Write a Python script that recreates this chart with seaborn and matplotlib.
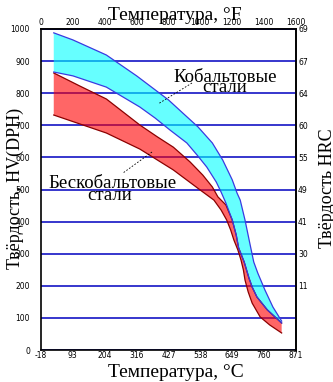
import numpy as np
import pandas as pd
import matplotlib
matplotlib.use("Agg")
import matplotlib.pyplot as plt
from matplotlib.lines import Line2D
import seaborn as sns

# ---- data (x in °F, y in HV) ----
cobalt_upper_F = [80, 200, 410, 600, 800, 890, 985, 1075, 1140, 1200, 1230, 1250, 1280, 1310, 1335, 1360, 1405, 1455, 1510]
cobalt_upper_HV = [988, 966, 919, 854, 779, 738, 695, 645, 592, 530, 489, 467, 405, 333, 274, 240, 187, 134, 90]
cobalt_lower_F = [80, 200, 410, 620, 715, 810, 915, 985, 1040, 1100, 1130, 1160, 1200, 1225, 1240, 1275, 1305, 1325, 1355, 1420, 1510]
cobalt_lower_HV = [866, 854, 819, 757, 723, 685, 645, 604, 570, 523, 492, 458, 405, 358, 318, 274, 224, 196, 165, 125, 84]

nocobalt_upper_F = [80, 245, 410, 620, 730, 830, 935, 1015, 1075, 1110, 1160, 1200, 1225, 1240, 1275, 1305, 1325, 1355, 1420, 1510]
nocobalt_upper_HV = [863, 822, 782, 701, 664, 632, 586, 545, 508, 477, 452, 405, 358, 318, 274, 224, 196, 165, 125, 84]
nocobalt_lower_F = [80, 245, 410, 620, 830, 1000, 1085, 1130, 1165, 1190, 1210, 1235, 1255, 1270, 1280, 1300, 1325, 1375, 1435, 1510]
nocobalt_lower_HV = [732, 704, 676, 626, 561, 498, 467, 436, 405, 374, 343, 312, 280, 249, 218, 181, 146, 103, 78, 53]

f_ticks = [0, 200, 400, 600, 800, 1000, 1200, 1400, 1600]
f_labels = ["0", "200", "400", "600", "800", "1000", "1200", "1400", "1600"]
c_labels = ["-18", "93", "204", "316", "427", "538", "649", "760", "871"]
f_grid = [400, 600, 800, 1000, 1200, 1400]
hv_ticks = [0, 100, 200, 300, 400, 500, 600, 700, 800, 900, 1000]
hv_labels = ["0", "100", "200", "300", "400", "500", "600", "700", "800", "900", "1000"]
hrc_labels = ["", "", "11", "30", "41", "49", "55", "60", "64", "67", "69"]

W, H = 333, 382
fig = plt.figure(figsize=(W / 100, H / 100), dpi=100)
L, R, T, B = 41, 296, 29, 350
ax = fig.add_axes([L / W, 1 - B / H, (R - L) / W, (B - T) / H])

def P(x, y):
    return (x / W, 1 - y / H)

grid_col = "#0000C0"
ax.set_xlim(0, 1600)
ax.set_ylim(0, 1000)
ax.set_axisbelow(True)

# fills
ax.fill(np.r_[nocobalt_upper_F, nocobalt_lower_F[::-1]],
        np.r_[nocobalt_upper_HV, nocobalt_lower_HV[::-1]],
        color="#FF0000", alpha=0.6, lw=0, zorder=2)
ax.fill(np.r_[cobalt_upper_F, cobalt_lower_F[::-1]],
        np.r_[cobalt_upper_HV, cobalt_lower_HV[::-1]],
        color="#00FFFF", alpha=0.6, lw=0, zorder=2)

# edges
red_edge = "#8B0000"
blue_edge = "#3A3AE0"
for xs, ys, c in [(nocobalt_upper_F, nocobalt_upper_HV, red_edge),
                  (nocobalt_lower_F, nocobalt_lower_HV, red_edge),
                  (cobalt_lower_F, cobalt_lower_HV, blue_edge),
                  (cobalt_upper_F, cobalt_upper_HV, blue_edge)]:
    df = pd.DataFrame({"F": xs, "HV": ys})
    sns.lineplot(data=df, x="F", y="HV", sort=False, estimator=None,
                 color=c, lw=0.9, ax=ax, zorder=3)

ax.set_xlabel("")
ax.set_ylabel("")

# grid
ax.set_yticks(hv_ticks)
ax.set_yticklabels(hv_labels)
ax.set_xticks(f_ticks)
ax.set_xticklabels(c_labels)
ax.set_xticks(f_grid, minor=True)
ax.grid(axis="y", which="major", color=grid_col, lw=1.1, zorder=0.5)
ax.grid(axis="x", which="minor", color=grid_col, lw=1.1, zorder=0.5)
ax.grid(axis="x", which="major", visible=False)

tick_font = dict(family="DejaVu Sans", size=5.5)
ax.tick_params(axis="both", which="both", length=0)
ax.tick_params(axis="y", pad=8)
ax.tick_params(axis="x", pad=0.8)
for lab in ax.get_xticklabels() + ax.get_yticklabels():
    lab.set_fontfamily(tick_font["family"])
    lab.set_fontsize(tick_font["size"])

for s in ax.spines.values():
    s.set_color("black")
    s.set_linewidth(1.2)

sec_x = ax.secondary_xaxis("top")
sec_x.set_xticks(f_ticks)
sec_x.set_xticklabels(f_labels, fontfamily="DejaVu Sans", fontsize=5.5)
sec_x.tick_params(length=0, pad=1.5)
sec_x.spines["top"].set_linewidth(1.2)

sec_y = ax.secondary_yaxis("right")
sec_y.set_yticks(hv_ticks)
sec_y.set_yticklabels(hrc_labels, fontfamily="DejaVu Sans", fontsize=5.5)
sec_y.tick_params(length=0, pad=1.5)
sec_y.spines["right"].set_linewidth(1.2)

serif = "Liberation Serif"
fig.text(*P(175, 20), "Температура, °F", family=serif, fontsize=14, ha="center", va="baseline")
fig.text(*P(176, 377), "Температура, °C", family=serif, fontsize=14, ha="center", va="baseline")
fig.text(*P(15, 188), "Твёрдость, HV(DPH)", family=serif, fontsize=13, ha="center", va="center", rotation=90)
fig.text(*P(327, 188), "Твёрдость HRC", family=serif, fontsize=13, ha="center", va="center", rotation=90)

fig.text(*P(225.5, 82), "Кобальтовые", family=serif, fontsize=13.5, ha="center", va="baseline")
fig.text(*P(224.5, 92), "стали", family=serif, fontsize=13.5, ha="center", va="baseline")
fig.text(*P(113, 188), "Бескобальтовые", family=serif, fontsize=13.5, ha="center", va="baseline")
fig.text(*P(110, 200), "стали", family=serif, fontsize=13.5, ha="center", va="baseline")

for (x0, y0), (x1, y1) in [((192, 83), (158, 104)), ((152, 152), (123, 173))]:
    fig.add_artist(Line2D([x0 / W, x1 / W], [1 - y0 / H, 1 - y1 / H], transform=fig.transFigure,
                          color="black", lw=0.6, ls=(0, (2, 2))))

fig.savefig("out.png", dpi=100)
